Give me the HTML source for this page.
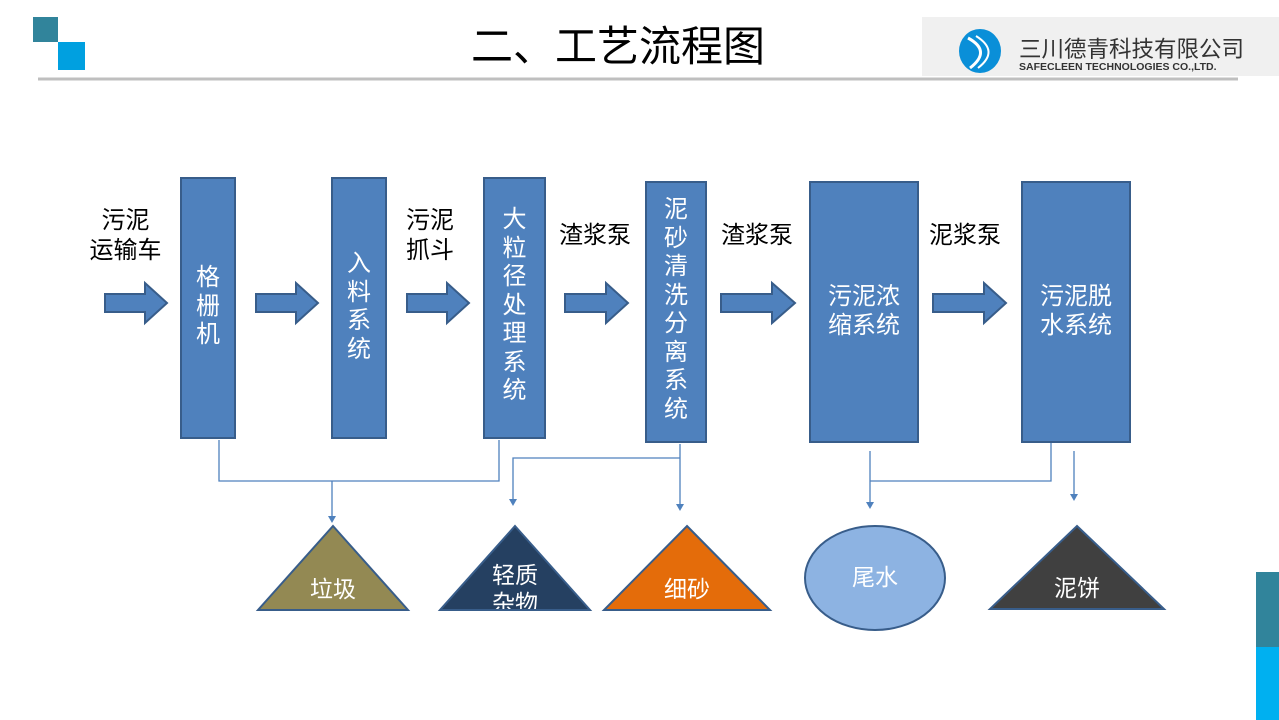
<!DOCTYPE html>
<html><head><meta charset="utf-8"><style>
body{margin:0;width:1279px;height:720px;background:#fff;overflow:hidden;position:relative;font-family:"Liberation Sans","Noto Sans CJK SC",sans-serif}
.t{position:absolute;font-size:24px;line-height:28.5px;text-align:center}
.l{line-height:30px}
</style></head><body>
<svg width="1279" height="720" style="position:absolute;left:0;top:0" font-family="Liberation Sans, Noto Sans CJK SC, sans-serif">
<rect x="33" y="17" width="25" height="25" fill="#31849b"/>
<rect x="58" y="42" width="27" height="28" fill="#00a0e0"/>
<rect x="922" y="17" width="357" height="59" fill="#f0f0f0"/>
<line x1="38" y1="79" x2="1238" y2="79" stroke="#bfbfbf" stroke-width="3"/>
<ellipse cx="980" cy="51" rx="21" ry="22" fill="#0a8fd8"/>
<path d="M968 38 Q992 51 970 68" stroke="#fff" stroke-width="3" fill="none"/>
<path d="M976 36 Q1000 51 978 68" stroke="#fff" stroke-width="2" fill="none"/>
<text x="1019" y="57" font-size="22.5" fill="#333">三川德青科技有限公司</text>
<text x="1019" y="70" font-size="10.5" font-weight="bold" fill="#333">SAFECLEEN TECHNOLOGIES CO.,LTD.</text>
<text x="618" y="61" font-size="42" text-anchor="middle" fill="#000">二、工艺流程图</text>
<g fill="#4f81bd" stroke="#385d8a" stroke-width="2">
<rect x="181" y="178" width="54" height="260"/>
<rect x="332" y="178" width="54" height="260"/>
<rect x="484" y="178" width="61" height="260"/>
<rect x="646" y="182" width="60" height="260"/>
<rect x="810" y="182" width="108" height="260"/>
<rect x="1022" y="182" width="108" height="260"/>
<path d="M105 294H145V283L167 303L145 323V312H105Z"/>
<path d="M256 294H296V283L318 303L296 323V312H256Z"/>
<path d="M407 294H447V283L469 303L447 323V312H407Z"/>
<path d="M565 294H606V283L628 303L606 323V312H565Z"/>
<path d="M721 294H772V283L795 303L772 323V312H721Z"/>
<path d="M933 294H984V283L1006 303L984 323V312H933Z"/>
</g>
<g stroke="#4f81bd" stroke-width="1.3" fill="none">
<path d="M219 440V481H499V440"/>
<path d="M332 481V517"/>
<path d="M680 444V505"/>
<path d="M680 458H513V500"/>
<path d="M870 451V503"/>
<path d="M870 481H1051V443"/>
<path d="M1074 451V495"/>
</g>
<g fill="#4f81bd">
<path d="M328 516H336L332 523Z"/>
<path d="M676 504H684L680 511Z"/>
<path d="M509 499H517L513 506Z"/>
<path d="M866 502H874L870 509Z"/>
<path d="M1070 494H1078L1074 501Z"/>
</g>
<g stroke="#385d8a" stroke-width="2">
<path d="M333 526L408 610H258Z" fill="#938953"/>
<path d="M515 526L590 610H440Z" fill="#254061"/>
<path d="M687 526L770 610H604Z" fill="#e46c0a"/>
<ellipse cx="875" cy="578" rx="70" ry="52" fill="#8db3e2"/>
<path d="M1077 526L1164 609H990Z" fill="#404040"/>
</g>
<rect x="1256" y="572" width="23" height="75" fill="#31849b"/>
<rect x="1256" y="647" width="23" height="73" fill="#00b0f0"/>
<g font-size="23" fill="#fff" text-anchor="middle">
<text x="333" y="597">垃圾</text>
<text x="687" y="597">细砂</text>
<text x="875" y="585">尾水</text>
<text x="1077" y="596">泥饼</text>
<text x="515" y="583">轻质</text>
<clipPath id="c"><rect x="440" y="560" width="160" height="49"/></clipPath>
<text x="515" y="611" clip-path="url(#c)">杂物</text>
</g>
</svg>
<div class="t l" style="left:78px;top:206px;width:95px">污泥<br>运输车</div>
<div class="t l" style="left:393px;top:206px;width:74px">污泥<br>抓斗</div>
<div class="t" style="left:548px;top:222px;width:94px">渣浆泵</div>
<div class="t" style="left:710px;top:222px;width:94px">渣浆泵</div>
<div class="t" style="left:918px;top:222px;width:94px">泥浆泵</div>
<div class="t" style="left:181px;top:264px;width:54px;color:#fff">格<br>栅<br>机</div>
<div class="t" style="left:332px;top:250px;width:54px;color:#fff">入<br>料<br>系<br>统</div>
<div class="t" style="left:484px;top:206px;width:61px;color:#fff">大<br>粒<br>径<br>处<br>理<br>系<br>统</div>
<div class="t" style="left:646px;top:196px;width:60px;color:#fff">泥<br>砂<br>清<br>洗<br>分<br>离<br>系<br>统</div>
<div class="t" style="left:810px;top:283px;width:108px;color:#fff">污泥浓<br>缩系统</div>
<div class="t" style="left:1022px;top:283px;width:108px;color:#fff">污泥脱<br>水系统</div>
</body></html>
